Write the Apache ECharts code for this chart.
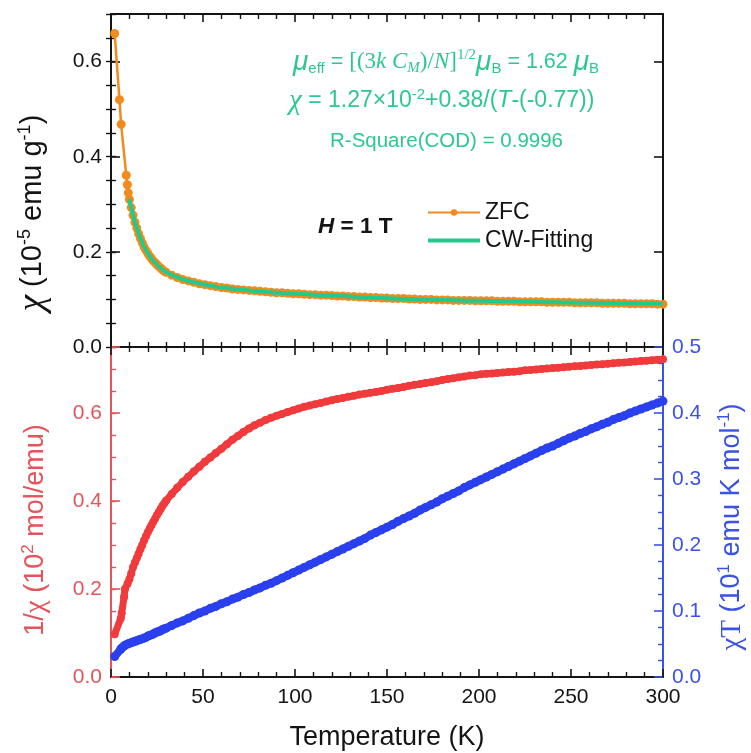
<!DOCTYPE html>
<html><head><meta charset="utf-8">
<script src="https://cdn.jsdelivr.net/npm/echarts@6/dist/echarts.min.js"></script>
<style>html,body{margin:0;padding:0;background:#fff}#c{width:751px;height:753px}</style>
</head><body><div id="c"></div>
<script>
// ---------- data ----------
const highTemps = [33,36,39,42,45,48,51,54,57,60,63,66,69,72,75,78,81,84,87,90,93,96,99,102,105,108,111,114,117,120,123,126,129,132,135,138,141,144,147,150,153,156,159,162,165,168,171,174,177,180,183,186,189,192,195,198,201,204,207,210,213,216,219,222,225,228,231,234,237,240,243,246,249,252,255,258,261,264,267,270,273,276,279,282,285,288,291,294,297,300];
const lowTempsTop = [2,4.6,5.5,8.3,8.9,9.4,10,11,12,13,14,15,16,17,18,19,20,21,22,23,24,25,26,27,28,29,30];
const lowTempsBottom = [2,5.3,5.8,7.1,7.6,9,10,11,12,13,14,15,16,17,18,19,20,21,22,23,24,25,26,27,28,29,30];

// chi (10^-5 emu/g), ZFC
const zfcChi = [0.659,0.52,0.468,0.361,0.341,0.324,0.31,0.293,0.277,0.262,0.25,0.238,0.228,0.219,0.21,0.203,0.197,0.191,0.186,0.181,0.177,0.173,0.169,0.166,0.162,0.159,0.157,
0.151,0.146,0.142,0.139,0.136,0.133,0.131,0.129,0.127,0.125,
0.124,0.122,0.121,0.12,0.119,0.118,0.117,0.116,0.115,0.114,
0.114,0.113,0.112,0.112,0.111,0.11,0.11,0.109,0.109,0.108,
0.107,0.107,0.106,0.106,0.105,0.105,0.104,0.104,0.103,0.103,
0.102,0.102,0.102,0.101,0.101,0.1,0.1,0.1,0.099,0.099,
0.099,0.098,0.098,0.098,0.098,0.097,0.097,0.097,0.097,0.096,
0.096,0.096,0.096,0.095,0.095,0.095,0.095,0.095,0.094,0.094,
0.094,0.094,0.094,0.093,0.093,0.093,0.093,0.093,0.092,0.092,
0.092,0.092,0.092,0.091,0.091,0.091,0.091,0.091,0.09,0.09];

// Curie-Weiss fit curve
const fitTemps = [10,11,12,13,14,15,16,18,20,22,24,26,28,30,35,40,45,50,60,70,80,90,100,120,140,160,180,200,220,240,260,280,300];
const fitChi = [0.311,0.293,0.277,0.262,0.25,0.238,0.228,0.21,0.197,0.186,0.177,0.169,0.162,0.157,0.148,0.141,0.136,0.132,0.125,0.121,0.117,0.114,0.112,0.108,0.104,0.101,0.099,0.097,0.096,0.094,0.093,0.092,0.091];

// 1/chi (10^2 mol/emu)
const invChi = [0.097,0.133,0.145,0.182,0.2,0.212,0.222,0.235,0.25,0.26,0.27,0.28,0.291,0.3,0.311,0.32,0.329,0.337,0.345,0.353,0.36,0.368,0.375,0.382,0.389,0.395,0.401,
0.416,0.43,0.443,0.455,0.467,0.478,0.489,0.499,0.509,0.519,
0.529,0.539,0.548,0.557,0.565,0.572,0.578,0.584,0.589,0.594,
0.598,0.602,0.606,0.61,0.614,0.617,0.62,0.623,0.626,0.629,
0.632,0.634,0.637,0.639,0.642,0.644,0.646,0.648,0.65,0.653,
0.655,0.657,0.659,0.662,0.664,0.666,0.668,0.67,0.672,0.675,
0.677,0.679,0.681,0.683,0.685,0.686,0.688,0.689,0.69,0.691,
0.692,0.693,0.694,0.695,0.697,0.698,0.699,0.7,0.701,0.702,
0.703,0.704,0.705,0.706,0.707,0.708,0.709,0.71,0.711,0.712,
0.713,0.714,0.715,0.716,0.717,0.718,0.719,0.72,0.721,0.722];

// chi*T (10^1 emu K/mol)
const chiT = [0.031,0.042,0.044,0.047,0.048,0.05,0.051,0.052,0.053,0.054,0.055,0.056,0.057,0.058,0.059,0.06,0.062,0.063,0.064,0.065,0.067,0.068,0.069,0.07,0.072,0.073,0.074,
0.078,0.082,0.085,0.089,0.093,0.097,0.1,0.104,0.107,0.111,
0.114,0.118,0.121,0.125,0.128,0.132,0.135,0.139,0.142,0.146,
0.15,0.154,0.158,0.162,0.166,0.17,0.174,0.178,0.182,0.186,
0.19,0.194,0.198,0.202,0.206,0.21,0.215,0.219,0.223,0.227,
0.231,0.236,0.24,0.244,0.248,0.253,0.257,0.261,0.265,0.27,
0.274,0.278,0.282,0.287,0.291,0.295,0.299,0.303,0.307,0.311,
0.315,0.319,0.323,0.327,0.331,0.335,0.339,0.343,0.347,0.35,
0.354,0.358,0.362,0.365,0.369,0.372,0.376,0.379,0.383,0.386,
0.39,0.393,0.396,0.4,0.403,0.406,0.409,0.412,0.415,0.418];

// tick labels
const xTicks = [0,50,100,150,200,250,300];
const chiTicks = [0,0.2,0.4,0.6];
const invChiTicks = [0,0.2,0.4,0.6];
const chiTTicks = [0,0.1,0.2,0.3,0.4,0.5];

// ---------- styling ----------
const SANS = 'Liberation Sans, Arial, sans-serif';
const SERIF = 'Liberation Serif, Times New Roman, serif';
const BLACK = '#141414';
const ORANGE = '#f28a1c';
const GREEN = '#22c98c';
const TXTGREEN = '#2cc890';
const RED = '#f03a3c';
const REDAX = '#e4545a';
const BLUE = '#2a40ee';
const BLUEAX = '#3a52e6';

const topT = lowTempsTop.concat(highTemps);
const botT = lowTempsBottom.concat(highTemps);
const pairs = (xs, ys) => xs.map((x, i) => [x, ys[i]]);

function xAxisDef(grid, pos, showLabels, extra) {
  return Object.assign({
    type: 'value', gridIndex: grid, position: pos, min: 0, max: 300, interval: 50,
    axisLine: {show: true, onZero: false, lineStyle: {color: BLACK, width: 2}},
    axisTick: {show: true, inside: true, length: 8, lineStyle: {color: BLACK, width: 1.6}},
    minorTick: {show: true, splitNumber: 5, length: 5, lineStyle: {color: BLACK, width: 1.4}},
    axisLabel: {show: showLabels, customValues: xTicks, fontSize: 21, fontFamily: SANS, color: BLACK, margin: 10},
    splitLine: {show: false}
  }, extra || {});
}
function yMajor(grid, pos, max, interval, ticks, color, showLabels, extra) {
  return Object.assign({
    type: 'value', gridIndex: grid, position: pos, min: 0, max: max, interval: interval,
    axisLine: {show: true, onZero: false, lineStyle: {color: color, width: 2}},
    axisTick: {show: true, inside: true, length: 9, lineStyle: {color: color, width: 1.6}},
    axisLabel: {show: showLabels, customValues: ticks, fontSize: 21, fontFamily: SANS, color: color, margin: 9,
      formatter: v => v.toFixed(1)},
    splitLine: {show: false}
  }, extra || {});
}
function yMinor(grid, pos, max, color) {
  return {
    type: 'value', gridIndex: grid, position: pos, min: 0, max: max, interval: 0.05,
    axisLine: {show: false},
    axisTick: {show: true, inside: true, length: 5, lineStyle: {color: color, width: 1.4}},
    axisLabel: {show: false}, splitLine: {show: false}
  };
}

const chart = echarts.init(document.getElementById('c'), null, {renderer: 'canvas'});
chart.setOption({
  backgroundColor: '#ffffff',
  animation: false,
  grid: [
    {left: 111, right: 88, top: 14, height: 333, containLabel: false, outerBoundsMode: 'none'},
    {left: 111, right: 88, top: 347, height: 330, containLabel: false, outerBoundsMode: 'none'}
  ],
  legend: {
    data: ['ZFC', {name: 'CW-Fitting', icon: 'path://M0,0 L52,0 L52,4 L0,4 Z'}],
    orient: 'vertical', left: 427, top: 201, padding: 0,
    itemWidth: 52, itemHeight: 8, itemGap: 5,
    textStyle: {fontSize: 23, fontFamily: SANS, color: BLACK}
  },
  xAxis: [
    xAxisDef(0, 'bottom', false),
    xAxisDef(0, 'top', false),
    xAxisDef(1, 'bottom', true, {name: 'Temperature (K)', nameLocation: 'middle', nameGap: 47,
      nameTextStyle: {fontSize: 27, fontFamily: SANS, color: BLACK}}),
    xAxisDef(1, 'top', false)
  ],
  yAxis: [
    yMajor(0, 'left', 0.7, 0.2, chiTicks, BLACK, true),
    yMinor(0, 'left', 0.7, BLACK),
    yMajor(0, 'right', 0.7, 0.2, chiTicks, BLACK, false),
    yMinor(0, 'right', 0.7, BLACK),
    yMajor(1, 'left', 0.75, 0.2, invChiTicks, REDAX, true),
    yMinor(1, 'left', 0.75, REDAX),
    {
      type: 'value', gridIndex: 1, position: 'right', min: 0, max: 0.5, interval: 0.1,
      axisLine: {show: true, onZero: false, lineStyle: {color: BLUEAX, width: 2}},
      axisTick: {show: true, inside: true, length: 9, lineStyle: {color: BLUEAX, width: 1.6}},
      minorTick: {show: true, splitNumber: 4, length: 5, lineStyle: {color: BLUEAX, width: 1.4}},
      axisLabel: {show: true, customValues: chiTTicks, fontSize: 21, fontFamily: SANS, color: BLUEAX, margin: 9,
        formatter: v => v.toFixed(1)},
      splitLine: {show: false}
    }
  ],
  series: [
    {name: 'ZFC', type: 'line', xAxisIndex: 0, yAxisIndex: 0, data: pairs(topT, zfcChi),
      symbol: 'circle', symbolSize: 9, lineStyle: {color: ORANGE, width: 2.5}, itemStyle: {color: ORANGE}, z: 2},
    {name: 'CW-Fitting', type: 'line', xAxisIndex: 0, yAxisIndex: 0, data: pairs(fitTemps, fitChi),
      symbol: 'none', smooth: 0.3, smoothMonotone: 'x', lineStyle: {color: GREEN, width: 4}, itemStyle: {color: GREEN}, z: 3},
    {name: 'invChi', type: 'line', xAxisIndex: 2, yAxisIndex: 4, data: pairs(botT, invChi),
      symbol: 'circle', symbolSize: 8, lineStyle: {color: RED, width: 7}, itemStyle: {color: RED}, z: 2},
    {name: 'chiT', type: 'line', xAxisIndex: 2, yAxisIndex: 6, data: pairs(botT, chiT),
      symbol: 'circle', symbolSize: 9, lineStyle: {color: BLUE, width: 8}, itemStyle: {color: BLUE}, z: 3}
  ],
  graphic: [
    {type: 'text', x: 293, y: 62, z: 10, style: {
      text: '{mu|μ}{sub|eff}{t| = }{s|[(3}{si|k }{si|C}{ssub|M}{s|)/}{si|N}{s|]}{sup|1/2}{mu|μ}{sub|B}{t| = 1.62 }{mu|μ}{sub|B}',
      fill: TXTGREEN, verticalAlign: 'middle', align: 'left',
      rich: {
        t: {fontSize: 21.5, fontFamily: SANS, lineHeight: 28},
        mu: {fontSize: 28, fontFamily: SANS, fontStyle: 'italic', lineHeight: 28},
        sub: {fontSize: 15, fontFamily: SANS, lineHeight: 15, verticalAlign: 'bottom'},
        s: {fontSize: 23, fontFamily: SERIF, lineHeight: 28},
        si: {fontSize: 23, fontFamily: SERIF, fontStyle: 'italic', lineHeight: 28},
        ssub: {fontSize: 15, fontFamily: SERIF, fontStyle: 'italic', lineHeight: 15, verticalAlign: 'bottom'},
        sup: {fontSize: 15, fontFamily: SERIF, lineHeight: 15, verticalAlign: 'top'}
      }}},
    {type: 'text', x: 289, y: 101, z: 10, style: {
      text: '{chi|χ}{t| = 1.27×10}{sup|-2}{t|+0.38/(}{ti|T}{t|-(-0.77))}',
      fill: TXTGREEN, verticalAlign: 'middle', align: 'left',
      rich: {
        t: {fontSize: 23, fontFamily: SANS, lineHeight: 28},
        ti: {fontSize: 23, fontFamily: SANS, fontStyle: 'italic', lineHeight: 28},
        chi: {fontSize: 29, fontFamily: SERIF, fontStyle: 'italic', lineHeight: 28},
        sup: {fontSize: 15, fontFamily: SANS, lineHeight: 15, verticalAlign: 'top'}
      }}},
    {type: 'text', x: 330, y: 141, z: 10, style: {
      text: 'R-Square(COD) = 0.9996', fill: TXTGREEN, fontSize: 20.5, fontFamily: SANS,
      verticalAlign: 'middle', align: 'left'}},
    {type: 'text', x: 318, y: 227, z: 10, style: {
      text: '{hi|H}{hb| = 1 T}', fill: BLACK, verticalAlign: 'middle', align: 'left',
      rich: {
        hi: {fontSize: 22.5, fontFamily: SANS, fontWeight: 'bold', fontStyle: 'italic'},
        hb: {fontSize: 22.5, fontFamily: SANS, fontWeight: 'bold'}
      }}},
    {type: 'text', x: 33, y: 213, rotation: Math.PI / 2, z: 10, style: {
      text: '{chi|χ}{t| (10}{sup|-5}{t| emu g}{sup|-1}{t|)}', fill: BLACK, align: 'center', verticalAlign: 'middle',
      rich: {
        t: {fontSize: 29, fontFamily: SANS, lineHeight: 34},
        chi: {fontSize: 37, fontFamily: SERIF, fontStyle: 'italic', lineHeight: 34},
        sup: {fontSize: 18, fontFamily: SANS, lineHeight: 18, verticalAlign: 'top'}
      }}},
    {type: 'text', x: 36, y: 530, rotation: Math.PI / 2, z: 10, style: {
      text: '{t|1/}{chi|χ}{t| (10}{sup|2}{t| mol/emu)}', fill: REDAX, align: 'center', verticalAlign: 'middle',
      rich: {
        t: {fontSize: 27, fontFamily: SANS, lineHeight: 32},
        chi: {fontSize: 29, fontFamily: SERIF, lineHeight: 32},
        sup: {fontSize: 17, fontFamily: SANS, lineHeight: 17, verticalAlign: 'top'}
      }}},
    {type: 'text', x: 732, y: 527, rotation: Math.PI / 2, z: 10, style: {
      text: '{chi|χT}{t| (10}{sup|1}{t| emu K mol}{sup|-1}{t|)}', fill: BLUEAX, align: 'center', verticalAlign: 'middle',
      rich: {
        t: {fontSize: 27, fontFamily: SANS, lineHeight: 32},
        chi: {fontSize: 29, fontFamily: SERIF, lineHeight: 32},
        sup: {fontSize: 17, fontFamily: SANS, lineHeight: 17, verticalAlign: 'top'}
      }}}
  ]
});
</script>
</body></html>
